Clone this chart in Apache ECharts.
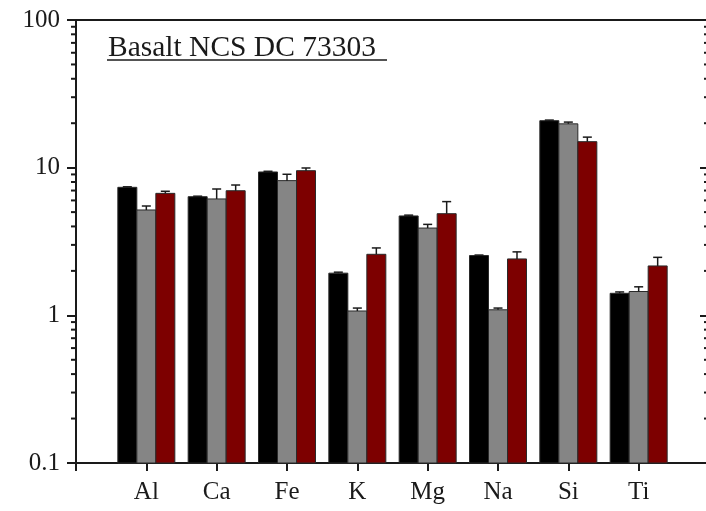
<!DOCTYPE html>
<html>
<head>
<meta charset="utf-8">
<script src="https://cdn.jsdelivr.net/npm/echarts@6/dist/echarts.min.js"></script>
<style>
  html, body { margin: 0; padding: 0; background: #fff; overflow: hidden; }
  #chart { width: 712px; height: 511px; }
</style>
</head>
<body>
<div id="chart"></div>
<script>
// Element concentrations, three measurement sets per element
const elements = ['Al', 'Ca', 'Fe', 'K', 'Mg', 'Na', 'Si', 'Ti'];
const setBlack = [7.36, 6.36, 9.35, 1.93, 4.71, 2.54, 20.8, 1.41];
const setGray  = [5.17, 6.14, 8.17, 1.07, 3.90, 1.09, 19.8, 1.45];
const setRed   = [6.70, 6.98, 9.54, 2.59, 4.88, 2.41, 15.0, 2.16];
// Upper error (same units as values)
const errBlack = [0.06, 0.05, 0.10, 0.03, 0.06, 0.02, 0.20, 0.03];
const errGray  = [0.33, 1.03, 0.85, 0.05, 0.23, 0.03, 0.55, 0.11];
const errRed   = [0.22, 0.65, 0.41, 0.27, 1.01, 0.28, 1.10, 0.31];
// Log axis range and minor tick values
const yTicks = [0.1, 1, 10, 100];
const minorValues = [0.2,0.3,0.4,0.5,0.6,0.7,0.8,0.9, 2,3,4,5,6,7,8,9, 20,30,40,50,60,70,80,90];

const FONT = '"Liberation Serif", "Times New Roman", serif';
const INK = '#1a1a1a';
const Y_MIN = yTicks[0];
const Y_MAX = yTicks[yTicks.length - 1];

// Padded category list: an empty slot on each side so bars sit on tick marks
const xCats = [''].concat(elements, ['']);

const BAR_W = 19;
const seriesDefs = [
  { name: 'A', values: setBlack, err: errBlack, color: '#000000', offset: -BAR_W },
  { name: 'B', values: setGray,  err: errGray,  color: '#858585', offset: 0 },
  { name: 'C', values: setRed,   err: errRed,   color: '#7d0000', offset: BAR_W }
];

// Bars rise from the bottom of the log axis, with an upper error bar and cap
const barSeries = seriesDefs.map(d => ({
  name: d.name,
  type: 'custom',
  z: 2,
  silent: true,
  data: d.values.map((v, i) => [i + 1, v, v + d.err[i]]),
  renderItem: function (params, api) {
    const idx = api.value(0);
    const bottom = api.coord([idx, Y_MIN]);
    const base = api.coord([idx, api.value(1)]);
    const top = api.coord([idx, api.value(2)]);
    const cx = base[0] + d.offset;
    const errStyle = { stroke: INK, lineWidth: 1.5 };
    return {
      type: 'group',
      children: [
        {
          type: 'rect',
          shape: { x: cx - BAR_W / 2, y: base[1], width: BAR_W, height: bottom[1] - base[1] },
          style: { fill: d.color, stroke: '#2a2a2a', lineWidth: 1 }
        },
        { type: 'line', shape: { x1: cx, y1: base[1], x2: cx, y2: top[1] }, style: errStyle },
        { type: 'line', shape: { x1: cx - 4.5, y1: top[1], x2: cx + 4.5, y2: top[1] }, style: errStyle }
      ]
    };
  }
}));

// Minor ticks: outward on the left axis, inward on the right axis
const minorSeries = {
  type: 'custom',
  z: 4,
  silent: true,
  data: minorValues.map(v => [0, v]),
  renderItem: function (params, api) {
    const left = api.coord([0, api.value(1)]);
    const right = api.coord([xCats.length - 1, api.value(1)]);
    const style = { stroke: INK, lineWidth: 2 };
    return {
      type: 'group',
      children: [
        { type: 'line', shape: { x1: left[0] - 5, y1: left[1], x2: left[0], y2: left[1] }, style: style },
        { type: 'line', shape: { x1: right[0] - 5, y1: right[1], x2: right[0], y2: right[1] }, style: style }
      ]
    };
  }
};

const chart = echarts.init(document.getElementById('chart'), null, { renderer: 'canvas' });
chart.setOption({
  animation: false,
  backgroundColor: '#ffffff',
  grid: {
    left: 76, top: 20, right: 3, bottom: 48,
    show: true, borderColor: INK, borderWidth: 2, backgroundColor: 'transparent'
  },
  xAxis: {
    type: 'category',
    data: xCats,
    boundaryGap: false,
    axisLine: { lineStyle: { color: INK, width: 2 } },
    axisTick: { show: true, length: 8, inside: false, lineStyle: { color: INK, width: 2 } },
    axisLabel: {
      interval: 0, margin: 17,
      fontFamily: FONT, fontSize: 25, color: INK
    },
    splitLine: { show: false }
  },
  yAxis: [
    {
      type: 'log',
      logBase: 10,
      min: Y_MIN,
      max: Y_MAX,
      axisLine: { show: true, lineStyle: { color: INK, width: 2 } },
      axisTick: { show: true, length: 9, inside: false, lineStyle: { color: INK, width: 2 } },
      axisLabel: {
        margin: 16, fontFamily: FONT, fontSize: 25, color: INK,
        formatter: v => String(v)
      },
      splitLine: { show: false }
    },
    {
      type: 'log',
      logBase: 10,
      position: 'right',
      min: Y_MIN,
      max: Y_MAX,
      axisLine: { show: true, lineStyle: { color: INK, width: 2 } },
      axisTick: { show: true, length: 9, inside: true, lineStyle: { color: INK, width: 2 } },
      axisLabel: { show: false },
      splitLine: { show: false }
    }
  ],
  graphic: [
    {
      type: 'text',
      left: 108, top: 33,
      style: { text: 'Basalt NCS DC 73303', font: '29.5px ' + FONT, fill: INK }
    },
    {
      type: 'line',
      shape: { x1: 107, y1: 60, x2: 387, y2: 60 },
      style: { stroke: INK, lineWidth: 1.5 }
    }
  ],
  series: barSeries.concat([minorSeries])
});
</script>
</body>
</html>
